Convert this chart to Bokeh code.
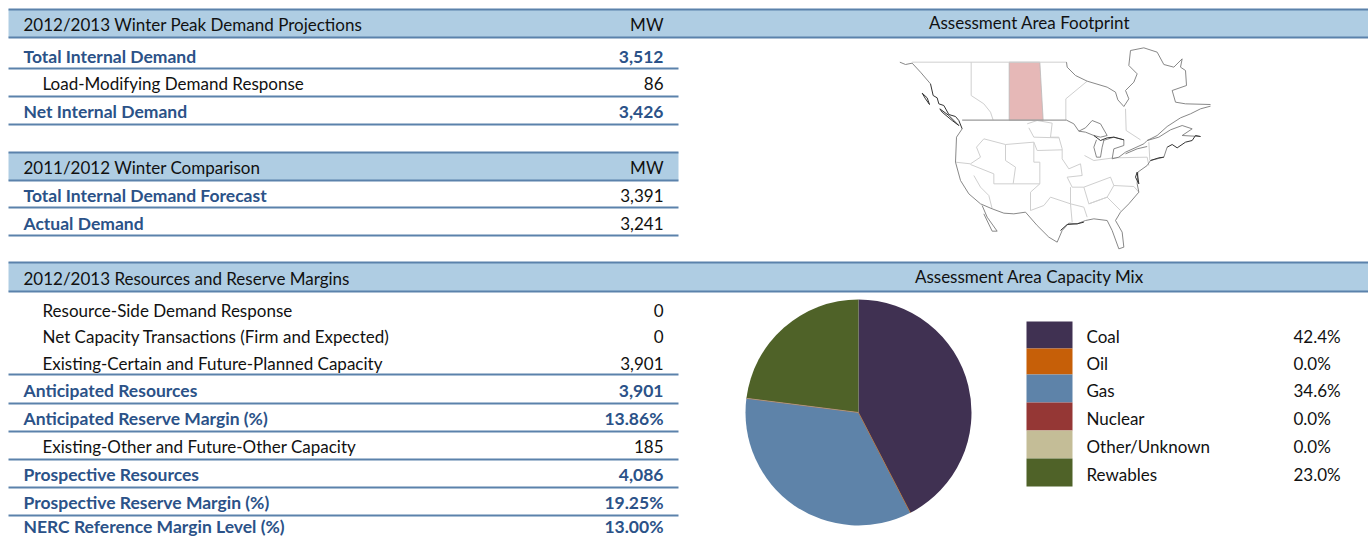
from math import pi, cos, sin
from bokeh.plotting import figure
from bokeh.models import ColumnDataSource, Range1d
from bokeh.core.properties import value
from bokeh.embed import file_html
from bokeh.resources import INLINE

# ---------- data ----------
hdr1 = ["2012/2013 Winter Peak Demand Projections", "MW"]
tbl1_labels = ["Total Internal Demand", "Load-Modifying Demand Response", "Net Internal Demand"]
tbl1_values = ["3,512", "86", "3,426"]
tbl1_bold = [True, False, True]
hdr2 = ["2011/2012 Winter Comparison", "MW"]
tbl2_labels = ["Total Internal Demand Forecast", "Actual Demand"]
tbl2_values = ["3,391", "3,241"]
tbl2_bold = [True, True]
tbl2_valbold = [False, False]
hdr3 = ["2012/2013 Resources and Reserve Margins", ""]
tbl3_labels = ["Resource-Side Demand Response", "Net Capacity Transactions (Firm and Expected)",
               "Existing-Certain and Future-Planned Capacity", "Anticipated Resources",
               "Anticipated Reserve Margin (%)", "Existing-Other and Future-Other Capacity",
               "Prospective Resources", "Prospective Reserve Margin (%)", "NERC Reference Margin Level (%)"]
tbl3_values = ["0", "0", "3,901", "3,901", "13.86%", "185", "4,086", "19.25%", "13.00%"]
tbl3_bold = [False, False, False, True, True, False, True, True, True]
mix_labels = ["Coal", "Oil", "Gas", "Nuclear", "Other/Unknown", "Rewables"]
mix_values = [42.4, 0.0, 34.6, 0.0, 0.0, 23.0]
mix_colors = ["#403152", "#C65F08", "#5E83A9", "#953735", "#C4BD97", "#4F6228"]
title_map = "Assessment Area Footprint"
title_mix = "Assessment Area Capacity Mix"

# map outlines, in map units
map_region = [(386, 65), (478, 65), (488, 239), (386, 239)]
map_coast_heavy = [
    [(150,130),(158,165),(170,172),(175,190),(190,195),(205,222),(225,228),(235,240),(245,265)],
    [(125,158),(135,175),(147,192),(140,172),(125,158)],
    [(178,205),(205,225),(235,255),(215,240),(185,215),(178,205)],
    [(770,395),(775,430),(765,410),(770,395)],
    [(860,320),(875,312),(890,322),(915,305),(935,300),(945,285),(960,288)],
    [(640,285),(660,300),(680,292),(700,290),(730,298)],
    [(540,570),(560,552),(590,550),(610,545)],
    [(810,360),(835,352),(850,350)],
]
map_coast = [
    [(58,65),(75,72),(95,68),(120,95),(150,130)],
    [(245,265),(228,290),(225,365),(240,420),(265,460),(300,490),(335,505),(370,518),(400,520),(435,515),(470,555),(505,590),(530,605),(545,570),(565,548),(590,550),(615,540),(640,535),(680,540),(695,570),(715,625),(730,620),(725,575),(705,540),(720,515),(745,490),(775,455),(770,430),(772,395),(800,375),(810,360),(850,350),(860,320)],
    [(960,288),(905,285),(935,265),(905,255),(870,268),(835,290),(800,300),(830,285),(860,258),(900,232),(930,220),(960,205),(990,197)],
    [(305,495),(320,530),(350,572),(335,572),(310,520)],
    [(595,272),(615,262),(635,240),(660,250),(680,285),(660,290),(640,285),(615,275),(595,272)],
    [(648,298),(640,320),(648,350),(660,350),(665,320),(670,300)],
    [(668,300),(700,290),(730,298),(730,315),(700,325),(695,355),(715,350),(735,335),(790,310),(800,300)],
    [(735,340),(770,325),(800,318)],
    [(558,239),(580,250),(595,272)],
    [(558,65),(560,80),(585,105),(620,122),(680,140),(705,155),(712,178),(730,198),(745,175),(735,150),(760,125),(770,100),(745,75),(750,30),(790,22),(830,35),(850,72),(880,80),(905,55)],
    [(905,55),(900,80),(915,90),(918,135),(875,150),(885,185),(915,190),(990,192)],
]
map_borders = [
    [(95,65),(558,65)],
    [(272,65),(272,165),(310,190),(330,215),(338,239)],
    [(620,122),(556,175),(556,239)],
    [(735,205),(737,270),(780,298)],
    [(805,305),(808,360)],
    [(440,250),(470,240),(515,248),(510,290),(535,290),(545,325),(545,355),(565,385),(600,370),(605,405),(560,410),(575,440),(610,440),(690,410),(700,435),(760,438),(775,455)],
    [(445,262),(460,290),(535,292)],
    [(288,320),(310,295),(375,312),(460,305),(470,330),(545,328)],
    [(288,320),(300,350),(270,370),(225,365)],
    [(375,312),(375,360),(405,380),(398,430),(340,430),(340,400),(270,372)],
    [(460,305),(460,365),(478,365),(478,430),(398,430)],
    [(280,405),(300,440),(325,465),(335,505)],
    [(478,430),(450,455),(450,510),(490,495),(510,470),(570,490),(575,545)],
    [(570,440),(570,490),(610,500),(620,530)],
    [(610,440),(625,490),(680,470),(720,510)],
    [(612,345),(640,360),(700,352),(800,350),(805,375)],
    [(625,490),(680,470),(700,435)],
]

# ---------- layout helpers ----------
W, H = 1368, 538
def Y(py):
    return H - py

p = figure(width=W, height=H, x_range=Range1d(0, W), y_range=Range1d(0, H),
           toolbar_location=None, output_backend="svg", min_border=0,
           outline_line_color=None, background_fill_color="white", border_fill_color="white")
p.xaxis.visible = False
p.yaxis.visible = False
p.grid.visible = False

FONT = "Lato"
BAND = "#AFCDE3"
RULE = "#5B82AB"
NAVY = "#2B5288"
INK = "#111111"
LEFT_R, FULL_R = 678, 1368
LBL_B, LBL_N, VAL_R = 23, 42, 663

def band(xs, top, bot):
    p.quad(left=xs[0], right=xs[1], top=Y(top), bottom=Y(bot), fill_color=BAND, line_color=None)
    p.segment(x0=xs[0], x1=xs[1], y0=Y(top), y1=Y(top), line_color=RULE, line_width=2)
    p.segment(x0=xs[0], x1=xs[1], y0=Y(bot), y1=Y(bot), line_color=RULE, line_width=2)

def rule(py):
    p.segment(x0=8, x1=LEFT_R, y0=Y(py), y1=Y(py), line_color=RULE, line_width=2)

def txt(x, py, s, color=INK, bold=False, align="left"):
    p.text(x=[x], y=[Y(py - 1)], text=[s], text_font=value(FONT),
           text_font_size=value("17.5px" if bold else "17px"),
           text_color=color, text_font_style="bold" if bold else "normal",
           text_align=align, text_baseline="middle")

def row(py, label, val, bold, valbold=None):
    vb = bold if valbold is None else valbold
    txt(LBL_B if bold else LBL_N, py, label, NAVY if bold else INK, bold)
    txt(VAL_R, py, val, NAVY if vb else INK, vb, "right")

# ---------- bands ----------
band((8, FULL_R), 9, 37)
band((8, LEFT_R), 152, 180)
band((8, FULL_R), 262, 291)
txt(LBL_B, 25, hdr1[0]); txt(VAL_R, 25, hdr1[1], align="right")
txt(LBL_B, 168, hdr2[0]); txt(VAL_R, 168, hdr2[1], align="right")
txt(LBL_B, 279, hdr3[0])
txt(1029, 23, title_map, align="center")
txt(1029, 277, title_mix, align="center")

# ---------- tables ----------
for py, l, v, b in zip([57, 84, 112], tbl1_labels, tbl1_values, tbl1_bold):
    row(py, l, v, b)
for py in [68, 96, 124]:
    rule(py)
for py, l, v, b, vb in zip([196, 224], tbl2_labels, tbl2_values, tbl2_bold, tbl2_valbold):
    row(py, l, v, b, vb)
for py in [207, 235]:
    rule(py)
for py, l, v, b in zip([311, 337, 364, 391, 419, 447, 475, 503, 527], tbl3_labels, tbl3_values, tbl3_bold):
    row(py, l, v, b)
for py in [374, 403, 431, 459, 487, 515]:
    rule(py)

# ---------- map ----------
def mx(v): return 880 + v / 3
def my(v): return Y(40 + v / 3)
p.patch([mx(a) for a, _ in map_region], [my(b) for _, b in map_region],
        fill_color="#E6B8B7", line_color="#B9B9B9", line_width=0.8)
for seg in map_borders:
    p.line([mx(a) for a, _ in seg], [my(b) for _, b in seg], line_color="#CFCFCF", line_width=1)
p.line([mx(245), mx(558)], [my(239), my(239)], line_color="#9A9A9A", line_width=1.2)
for seg in map_coast:
    p.line([mx(a) for a, _ in seg], [my(b) for _, b in seg], line_color="#7A7A7A", line_width=0.9)
for seg in map_coast_heavy:
    p.line([mx(a) for a, _ in seg], [my(b) for _, b in seg], line_color="#333333", line_width=1)

# ---------- pie ----------
PCX, PCY, PR = 858, Y(412), 113
total = sum(mix_values)
ang = pi / 2
starts, ends = [], []
for v in mix_values:
    starts.append(ang - 2 * pi * v / total)
    ends.append(ang)
    ang = starts[-1]
keep = [i for i, v in enumerate(mix_values) if v > 0]
src = ColumnDataSource(dict(x=[PCX] * len(keep), y=[PCY] * len(keep),
                            s=[starts[i] for i in keep], e=[ends[i] for i in keep],
                            c=[mix_colors[i] for i in keep]))
p.wedge(x="x", y="y", radius=PR, start_angle="s", end_angle="e", fill_color="c", line_color=None, source=src)
for i, v in enumerate(mix_values):
    if v == 0:
        p.segment(x0=[PCX], y0=[PCY], x1=[PCX + PR * cos(ends[i])], y1=[PCY + PR * sin(ends[i])],
                  line_color=mix_colors[i], line_width=0.6)

# ---------- legend ----------
edges = [321, 348, 374, 402, 430, 458, 486]
mids = [337, 364, 391, 419, 447, 475]
for i, (lab, v, col) in enumerate(zip(mix_labels, mix_values, mix_colors)):
    p.quad(left=1026, right=1072, top=Y(edges[i]), bottom=Y(edges[i + 1]), fill_color=col, line_color=None)
    txt(1086, mids[i], lab)
    txt(1293, mids[i], f"{v:.1f}%")

open("out.html", "w").write(file_html(p, INLINE))
